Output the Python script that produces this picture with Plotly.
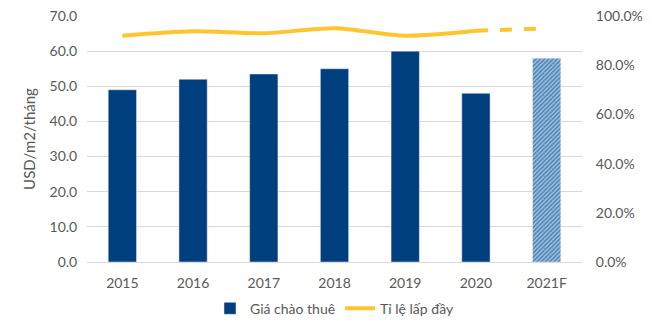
import plotly.graph_objects as go

years = ["2015", "2016", "2017", "2018", "2019", "2020", "2021F"]
price = [49.0, 52.0, 53.5, 55.0, 60.0, 48.0, 58.0]
occupancy = [0.92, 0.938, 0.93, 0.95, 0.92, 0.94, 0.95]

bar_color = "#003f7d"
line_color = "#FFC52E"
font_family = "Lato, Open Sans, sans-serif"
tick_color = "#595959"

fig = go.Figure()

fig.add_trace(go.Bar(
    x=years[:6], y=price[:6], name="Giá chào thuê",
    marker=dict(color=bar_color), width=0.4, showlegend=True,
))
fig.add_trace(go.Bar(
    x=years[6:], y=price[6:], name="Giá chào thuê (F)",
    marker=dict(color="#a9cbea",
                pattern=dict(shape="/", fgcolor=bar_color, bgcolor="#a9cbea",
                             size=3, solidity=0.6)),
    width=0.4, showlegend=False,
))
fig.add_trace(go.Scatter(
    x=years[:6], y=occupancy[:6], name="Tỉ lệ lấp đầy", yaxis="y2",
    mode="lines", line=dict(color=line_color, width=4, shape="spline", smoothing=0.8),
))
fig.add_trace(go.Scatter(
    x=years[5:], y=occupancy[5:], name="Tỉ lệ lấp đầy (F)", yaxis="y2",
    mode="lines", line=dict(color=line_color, width=4, dash="dash"),
    showlegend=False,
))

fig.update_layout(
    width=655, height=336,
    margin=dict(l=87, r=73, t=16, b=74, autoexpand=False),
    paper_bgcolor="white", plot_bgcolor="white",
    font=dict(family=font_family, size=14, color=tick_color),
    xaxis=dict(showgrid=False, ticks="outside", ticklen=8, tickcolor="rgba(0,0,0,0)",
               showline=True, linecolor="#d9d9d9",
               automargin=False, tickfont=dict(size=14, color=tick_color)),
    yaxis=dict(range=[0, 70], dtick=10, tickformat=".1f", showgrid=True,
               gridcolor="#d9d9d9", gridwidth=1, zeroline=False, automargin=False,
               ticks="outside", ticklen=6, tickcolor="rgba(0,0,0,0)",
               title=dict(text="USD/m2/tháng", font=dict(size=15, color=tick_color), standoff=10),
               tickfont=dict(size=14, color=tick_color)),
    yaxis2=dict(range=[0, 1], dtick=0.2, tickformat=".1%", overlaying="y", side="right",
                showgrid=False, zeroline=False, automargin=False,
                ticks="outside", ticklen=10, tickcolor="rgba(0,0,0,0)",
                tickfont=dict(size=14, color=tick_color)),
    legend=dict(orientation="h", x=0.5, xanchor="center", y=-0.125, yanchor="top",
                font=dict(size=14, color=tick_color), traceorder="normal"),
    bargap=0.6,
)

fig.write_html("out.html")
